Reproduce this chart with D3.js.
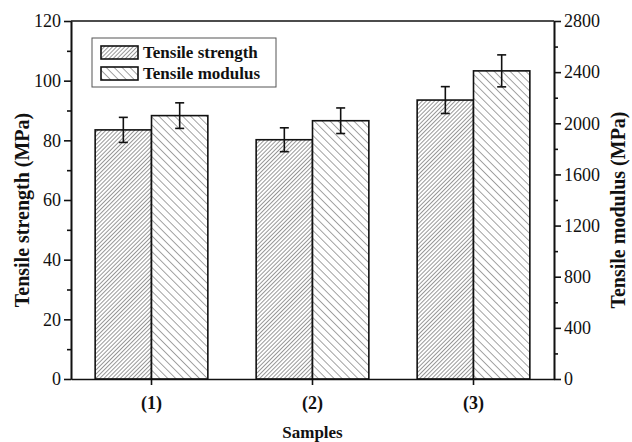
<!DOCTYPE html>
<html>
<head>
<meta charset="utf-8">
<script src="https://cdn.jsdelivr.net/npm/d3@7"></script>
<style>
  body { margin: 0; background: #fff; }
  svg text { font-family: "Liberation Serif", "Times New Roman", serif; fill: #111; }
  .axis path, .axis line { stroke: #111; stroke-width: 1.6; }
</style>
</head>
<body>
<div id="chart"></div>
<script>
// data
const samples = ["(1)", "(2)", "(3)"];
const strength = [83.5, 80.2, 93.5];
const strengthErr = [4.2, 4.0, 4.5];
const modulus = [2060, 2020, 2410];
const modulusErr = [100, 100, 125];
const seriesNames = ["Tensile strength", "Tensile modulus"];
const leftTicks = [0, 20, 40, 60, 80, 100, 120];
const rightTicks = [0, 400, 800, 1200, 1600, 2000, 2400, 2800];

const width = 632, height = 442;
const margin = {top: 21, right: 78, bottom: 63, left: 71};
const innerW = width - margin.left - margin.right;
const innerH = height - margin.top - margin.bottom;

const svg = d3.select("#chart").append("svg")
    .attr("width", width).attr("height", height);

// hatch patterns
const defs = svg.append("defs");
function hatch(id, spacing, angle, sw) {
    const p = defs.append("pattern").attr("id", id)
        .attr("patternUnits", "userSpaceOnUse")
        .attr("width", spacing).attr("height", spacing)
        .attr("patternTransform", `rotate(${angle})`);
    p.append("rect").attr("width", spacing).attr("height", spacing).attr("fill", "#fff");
    p.append("line").attr("x1", 0).attr("y1", 0).attr("x2", 0).attr("y2", spacing)
        .attr("stroke", "#333").attr("stroke-width", sw);
}
hatch("hatchS", 2.9, 45, 1);
hatch("hatchM", 5.6, -45, 0.9);
const fills = ["url(#hatchS)", "url(#hatchM)"];

const g = svg.append("g").attr("transform", `translate(${margin.left},${margin.top})`);

const x = d3.scaleBand().domain(samples).range([0, innerW]).paddingInner(0.3).paddingOuter(0.15);
const xs = d3.scaleBand().domain([0, 1]).range([0, x.bandwidth()]);
const yL = d3.scaleLinear().domain([0, 120]).range([innerH, 0]);
const yR = d3.scaleLinear().domain([0, 2800]).range([innerH, 0]);

const rows = samples.map((s, i) => [
    {s, k: 0, v: strength[i], e: strengthErr[i], y: yL},
    {s, k: 1, v: modulus[i], e: modulusErr[i], y: yR}
]).flat();

// bars
g.selectAll("rect.bar").data(rows).join("rect").attr("class", "bar")
    .attr("x", d => x(d.s) + xs(d.k))
    .attr("width", xs.bandwidth())
    .attr("y", d => d.y(d.v))
    .attr("height", d => innerH - d.y(d.v))
    .attr("fill", d => fills[d.k])
    .attr("stroke", "#111").attr("stroke-width", 1.6);

// error bars
const cap = 4.5;
const eb = g.selectAll("g.err").data(rows).join("g").attr("class", "err")
    .attr("stroke", "#111").attr("stroke-width", 1.6);
eb.append("line")
    .attr("x1", d => x(d.s) + xs(d.k) + xs.bandwidth() / 2)
    .attr("x2", d => x(d.s) + xs(d.k) + xs.bandwidth() / 2)
    .attr("y1", d => d.y(d.v + d.e)).attr("y2", d => d.y(d.v - d.e));
[1, -1].forEach(sg => {
    eb.append("line")
        .attr("x1", d => x(d.s) + xs(d.k) + xs.bandwidth() / 2 - cap)
        .attr("x2", d => x(d.s) + xs(d.k) + xs.bandwidth() / 2 + cap)
        .attr("y1", d => d.y(d.v + sg * d.e)).attr("y2", d => d.y(d.v + sg * d.e));
});

// frame top
g.append("line").attr("x1", 0).attr("x2", innerW).attr("y1", 0).attr("y2", 0)
    .attr("stroke", "#111").attr("stroke-width", 1.6);

// left axis
g.append("g").attr("class", "axis")
    .call(d3.axisLeft(yL).tickValues(d3.range(10, 120, 20)).tickSize(4).tickFormat("").tickSizeOuter(0));
g.append("g").attr("class", "axis")
    .call(d3.axisLeft(yL).tickValues(leftTicks).tickSize(7).tickPadding(3).tickSizeOuter(0))
    .selectAll("text").style("font-size", "18px");

// right axis
g.append("g").attr("class", "axis").attr("transform", `translate(${innerW},0)`)
    .call(d3.axisRight(yR).tickValues(d3.range(200, 2800, 400)).tickSize(4).tickFormat("").tickSizeOuter(0));
g.append("g").attr("class", "axis").attr("transform", `translate(${innerW},0)`)
    .call(d3.axisRight(yR).tickValues(rightTicks).tickSize(7).tickPadding(3)
        .tickFormat(d3.format("d")).tickSizeOuter(0))
    .selectAll("text").style("font-size", "18px");

// bottom axis
const xAxis = g.append("g").attr("class", "axis").attr("transform", `translate(0,${innerH})`)
    .call(d3.axisBottom(x).tickSize(6).tickPadding(11).tickSizeOuter(0));
xAxis.selectAll("text").style("font-size", "18px").style("font-weight", "bold");

// axis titles
svg.append("text").attr("transform", `translate(22,${margin.top + innerH / 2 + 10}) rotate(-90)`)
    .attr("text-anchor", "middle").attr("dy", "0.35em")
    .style("font-size", "20px").style("font-weight", "bold").text("Tensile strength (MPa)");
svg.append("text").attr("transform", `translate(618,${margin.top + innerH / 2 + 10}) rotate(-90)`)
    .attr("text-anchor", "middle").attr("dy", "0.35em")
    .style("font-size", "20px").style("font-weight", "bold").text("Tensile modulus (MPa)");
svg.append("text").attr("x", margin.left + innerW / 2).attr("y", 438)
    .attr("text-anchor", "middle")
    .style("font-size", "17px").style("font-weight", "bold").text("Samples");

// legend
const lg = svg.append("g").attr("transform", "translate(92,38)");
lg.append("rect").attr("width", 184).attr("height", 49)
    .attr("fill", "#fff").attr("stroke", "#555").attr("stroke-width", 1);
seriesNames.forEach((n, i) => {
    lg.append("rect").attr("x", 9).attr("y", 8 + i * 21).attr("width", 37).attr("height", 13)
        .attr("fill", fills[i]).attr("stroke", "#111").attr("stroke-width", 1.6);
    lg.append("text").attr("x", 51).attr("y", 14.5 + i * 21).attr("dy", "0.35em")
        .style("font-size", "17px").style("font-weight", "bold").text(n);
});
</script>
</body>
</html>
